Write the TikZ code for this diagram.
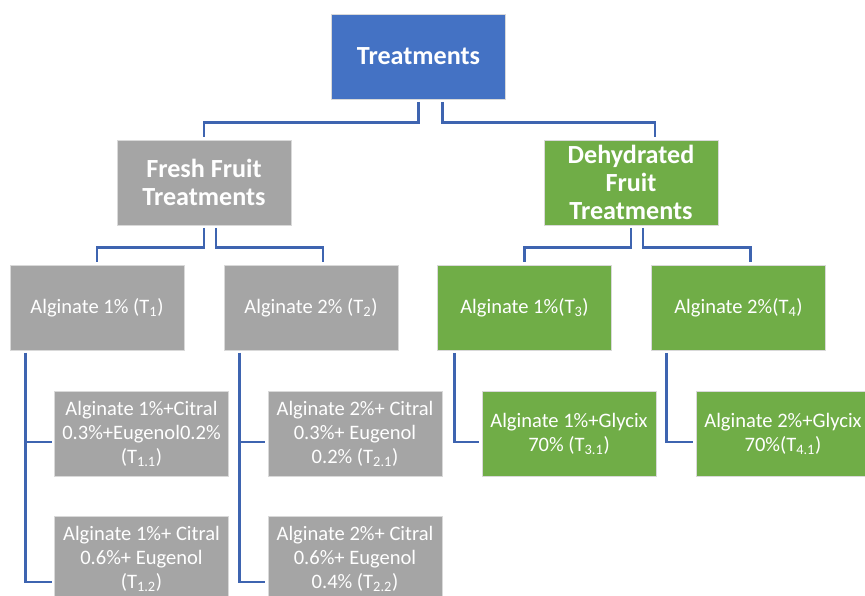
\documentclass[tikz,border=0pt]{standalone}
\usepackage{fontspec}
\setmainfont{Carlito}
\usetikzlibrary{positioning,calc}

\definecolor{boxblue}{HTML}{4472C4}
\definecolor{boxgray}{HTML}{A5A5A5}
\definecolor{boxgreen}{HTML}{70AD47}
\definecolor{linkblue}{HTML}{3E64B0}
\newcommand{\tsub}[1]{\textsubscript{#1}}

\begin{document}
\begin{tikzpicture}[
        x=0.75pt, y=-0.75pt,
        % Caixa base
        base box/.style = {
            rectangle,
            draw=white!70!gray,
            line width=0.4pt,
            text=white,
            align=center,
            inner sep=2pt,
            minimum width=130.5pt,
            minimum height=63.75pt,
            font=\fontsize{15.4}{18}\selectfont
        },
        % Caixas de titulo (negrito)
        title box/.style = {
            base box,
            font=\bfseries\fontsize{19.6}{21}\selectfont
        },
        % Cores das caixas
        blue box/.style = {title box, fill=boxblue},
        gray box/.style = {base box, fill=boxgray},
        green box/.style = {base box, fill=boxgreen},
        % Estilo das ligacoes
        link/.style = {
            draw=linkblue,
            line width=1.9pt,
            shorten <=2pt,
            shorten >=2pt
        }
    ]
    \clip (0,0) rectangle (865,596);

    % Raiz
    \node[blue box] (treat) at (418.5,56.5) {Treatments};

    % Segundo nivel
    \node[title box, fill=boxgray] (fresh) at (204,182.5) {Fresh Fruit\\Treatments};
    \node[title box, fill=boxgreen] (dehyd) at (631,182.5) {Dehydrated\\Fruit\\Treatments};

    % Terceiro nivel
    \node[gray box] (t1) at (97,307.5) {Alginate 1\% (T\tsub{1})};
    \node[gray box] (t2) at (311,307.5) {Alginate 2\% (T\tsub{2})};
    \node[green box] (t3) at (524.5,307.5) {Alginate 1\%(T\tsub{3})};
    \node[green box] (t4) at (738.5,307.5) {Alginate 2\%(T\tsub{4})};

    % Quarto nivel
    \node[gray box] (t11) at (141.5,433.5) {Alginate 1\%+Citral\\0.3\%+Eugenol0.2\%\\(T\tsub{1.1})};
    \node[gray box] (t12) at (141.5,558.5) {Alginate 1\%+ Citral\\0.6\%+ Eugenol\\(T\tsub{1.2})};
    \node[gray box] (t21) at (355,433.5) {Alginate 2\%+ Citral\\0.3\%+ Eugenol\\0.2\% (T\tsub{2.1})};
    \node[gray box] (t22) at (355,558.5) {Alginate 2\%+ Citral\\0.6\%+ Eugenol\\0.4\% (T\tsub{2.2})};
    \node[green box] (t31) at (569,433.5) {Alginate 1\%+Glycix\\70\% (T\tsub{3.1})};
    \node[green box] (t41) at (783,433.5) {Alginate 2\%+Glycix\\70\%(T\tsub{4.1})};

    % Ligacoes entre niveis
    \draw[link] (treat.south) -- ++(0,23) -| (fresh.north);
    \draw[link] ($(treat.south)+(24,0)$) -- ++(0,23) -| ($(dehyd.north)+(24,0)$);
    \draw[link] (fresh.south) -- ++(0,22) -| (t1.north);
    \draw[link] ($(fresh.south)+(12,0)$) -- ++(0,22) -| ($(t2.north)+(12,0)$);
    \draw[link] (dehyd.south) -- ++(0,22) -| (t3.north);
    \draw[link] ($(dehyd.south)+(12,0)$) -- ++(0,22) -| ($(t4.north)+(12,0)$);

    % Ligacoes laterais
    \draw[link] ($(t1.south west)+(16,0)$) |- ($(t11.west)+(0,8.5)$);
    \draw[link] ($(t1.south west)+(16,0)$) |- ($(t12.west)+(0,23.5)$);
    \draw[link] ($(t2.south west)+(16,0)$) |- ($(t21.west)+(0,8.5)$);
    \draw[link] ($(t2.south west)+(16,0)$) |- ($(t22.west)+(0,23.5)$);
    \draw[link] ($(t3.south west)+(17,0)$) |- ($(t31.west)+(0,8.5)$);
    \draw[link] ($(t4.south west)+(15,0)$) |- ($(t41.west)+(0,8.5)$);
\end{tikzpicture}
\end{document}
